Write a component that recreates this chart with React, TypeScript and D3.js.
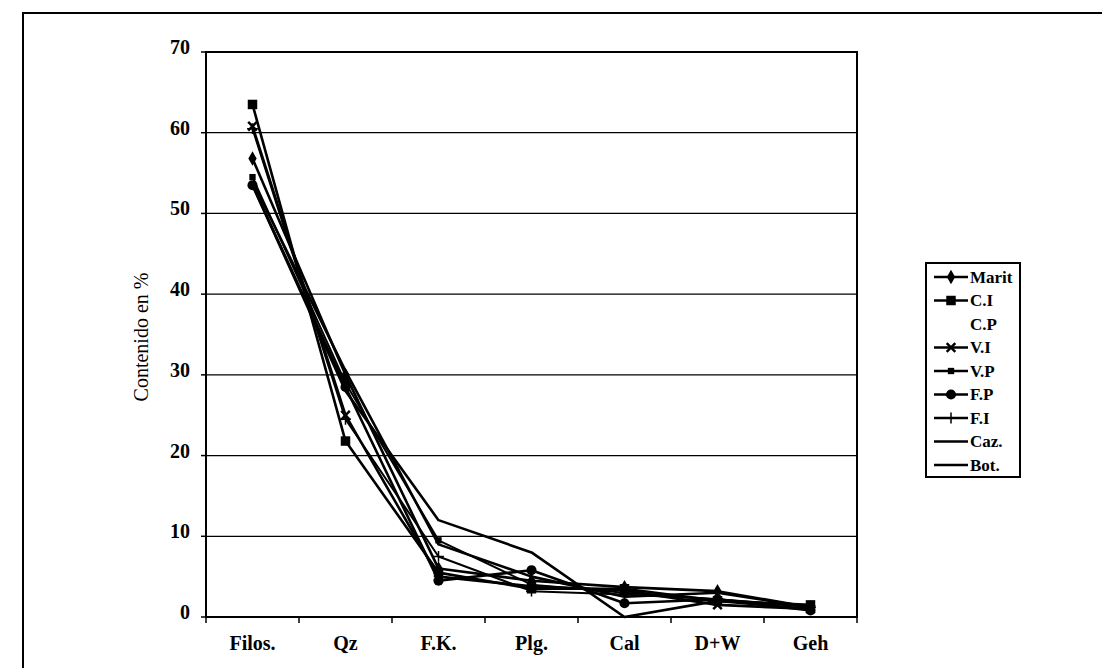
import { useRef, useEffect } from "react";
import * as d3 from "d3";

const categories = ["Filos.", "Qz", "F.K.", "Plg.", "Cal", "D+W", "Geh"];
const yTicks = [0, 10, 20, 30, 40, 50, 60, 70];

const marit = [56.8, 30.0, 6.0, 4.5, 3.7, 3.2, 1.2];
const cI = [63.5, 21.8, 5.5, 3.5, 3.5, 2.0, 1.5];
const cP = [58.0, 27.0, 7.0, 4.0, 3.0, 2.5, 1.0];
const vI = [60.8, 25.0, 5.0, 3.8, 3.3, 1.5, 1.0];
const vP = [54.5, 29.0, 9.5, 4.0, 3.0, 2.2, 1.3];
const fP = [53.5, 28.5, 4.5, 5.8, 1.7, 2.2, 0.8];
const fI = [60.5, 24.5, 7.5, 3.2, 2.8, 2.2, 1.2];
const caz = [54.0, 30.5, 9.0, 5.0, 2.5, 3.0, 1.2];
const bot = [53.5, 28.0, 12.0, 8.0, 0.0, 2.0, 1.0];

const seriesNames = ["Marit", "C.I", "C.P", "V.I", "V.P", "F.P", "F.I", "Caz.", "Bot."];
const seriesValues = [marit, cI, cP, vI, vP, fP, fI, caz, bot];
const seriesMarkers = ["diamond", "square", "none", "times", "smallsquare", "circle", "plus", "none", "none"];

export default function App() {
  const svgRef = useRef(null);

  useEffect(() => {
    const svg = d3.select(svgRef.current);
    svg.selectAll("*").remove();

    const left = 206, right = 857, top = 52, bottom = 617;
    const x = d3.scaleBand().domain(categories).range([left, right]);
    const y = d3.scaleLinear().domain([0, 70]).range([bottom, top]);
    const cx = (c: string) => (x(c) as number) + x.bandwidth() / 2;
    const font = "'Liberation Serif', 'Times New Roman', serif";

    // outer frame
    svg.append("path").attr("d", "M23,700 L23,13 L1120,13")
      .attr("fill", "none").attr("stroke", "#000").attr("stroke-width", 2);

    // grid
    svg.append("g").selectAll("line").data(yTicks.filter((t) => t > 0)).join("line")
      .attr("x1", left).attr("x2", right)
      .attr("y1", (d) => y(d)).attr("y2", (d) => y(d))
      .attr("stroke", "#000").attr("stroke-width", 1.3);

    // plot border
    svg.append("rect").attr("x", left).attr("y", top)
      .attr("width", right - left).attr("height", bottom - top)
      .attr("fill", "none").attr("stroke", "#000").attr("stroke-width", 2);

    // y axis ticks + labels
    const ya = svg.append("g");
    ya.selectAll("line").data(yTicks).join("line")
      .attr("x1", left - 5).attr("x2", left)
      .attr("y1", (d) => y(d)).attr("y2", (d) => y(d))
      .attr("stroke", "#000").attr("stroke-width", 1.5);
    ya.selectAll("text").data(yTicks).join("text")
      .attr("x", left - 16).attr("y", (d) => y(d)).attr("dy", "0.1em")
      .attr("text-anchor", "end").attr("font-family", font)
      .attr("font-size", 20).attr("font-weight", "bold").text((d) => d);

    // x axis ticks + labels
    const xa = svg.append("g");
    const bounds = categories.map((c) => x(c) as number).concat([right]);
    xa.selectAll("line").data(bounds).join("line")
      .attr("x1", (d) => d).attr("x2", (d) => d)
      .attr("y1", bottom).attr("y2", bottom + 6)
      .attr("stroke", "#000").attr("stroke-width", 1.5);
    xa.selectAll("text").data(categories).join("text")
      .attr("x", (d) => cx(d)).attr("y", bottom + 33)
      .attr("text-anchor", "middle").attr("font-family", font)
      .attr("font-size", 20).attr("font-weight", "bold").text((d) => d);

    // y title
    svg.append("text")
      .attr("transform", `translate(148,337) rotate(-90)`)
      .attr("text-anchor", "middle").attr("font-family", font)
      .attr("font-size", 20).text("Contenido en %");

    const line = d3.line<number>()
      .x((_, i) => cx(categories[i]))
      .y((d) => y(d));

    const drawMarker = (g: any, kind: string, px: number, py: number) => {
      if (kind === "diamond") {
        g.append("path").attr("d", d3.symbol(d3.symbolDiamond, 60)())
          .attr("transform", `translate(${px},${py})`).attr("fill", "#000");
      } else if (kind === "square") {
        g.append("path").attr("d", d3.symbol(d3.symbolSquare, 90)())
          .attr("transform", `translate(${px},${py})`).attr("fill", "#000");
      } else if (kind === "smallsquare") {
        g.append("path").attr("d", d3.symbol(d3.symbolSquare, 40)())
          .attr("transform", `translate(${px},${py})`).attr("fill", "#000");
      } else if (kind === "circle") {
        g.append("path").attr("d", d3.symbol(d3.symbolCircle, 80)())
          .attr("transform", `translate(${px},${py})`).attr("fill", "#000");
      } else if (kind === "times") {
        g.append("path").attr("d", d3.symbol(d3.symbolTimes, 50)())
          .attr("transform", `translate(${px},${py})`).attr("fill", "none")
          .attr("stroke", "#000").attr("stroke-width", 2.5);
      } else if (kind === "plus") {
        g.append("path").attr("d", d3.symbol(d3.symbolPlus, 40)())
          .attr("transform", `translate(${px},${py})`).attr("fill", "none")
          .attr("stroke", "#000").attr("stroke-width", 1.5);
      }
    };

    const lines = svg.append("g");
    seriesValues.forEach((vals, si) => {
      if (seriesNames[si] === "C.P") return;
      const g = lines.append("g");
      g.append("path").attr("d", line(vals))
        .attr("fill", "none").attr("stroke", "#000")
        .attr("stroke-width", seriesMarkers[si] === "plus" || seriesMarkers[si] === "smallsquare" ? 2 : 2.6)
        .attr("stroke-linejoin", "round");
      vals.forEach((v, i) => drawMarker(g, seriesMarkers[si], cx(categories[i]), y(v)));
    });

    // legend
    const lg = svg.append("g");
    const lx = 926, ly = 263, lw = 94, lh = 214, step = 23.5;
    lg.append("rect").attr("x", lx).attr("y", ly).attr("width", lw).attr("height", lh)
      .attr("fill", "#fff").attr("stroke", "#000").attr("stroke-width", 2);
    seriesNames.forEach((name, i) => {
      const yy = ly + 14 + i * step;
      const gi = lg.append("g");
      if (name !== "C.P") {
        gi.append("line").attr("x1", lx + 8).attr("x2", lx + 42).attr("y1", yy).attr("y2", yy)
          .attr("stroke", "#000").attr("stroke-width", 2.6);
        drawMarker(gi, seriesMarkers[i], lx + 25, yy);
      }
      gi.append("text").attr("x", lx + 44).attr("y", yy).attr("dy", "0.35em")
        .attr("font-family", font).attr("font-size", 17).attr("font-weight", "bold").text(name);
    });
  }, []);

  return (
    <svg ref={svgRef} width={1102} height={668}
      style={{ position: "absolute", left: 0, top: 0, background: "#fff", display: "block" }} />
  );
}
